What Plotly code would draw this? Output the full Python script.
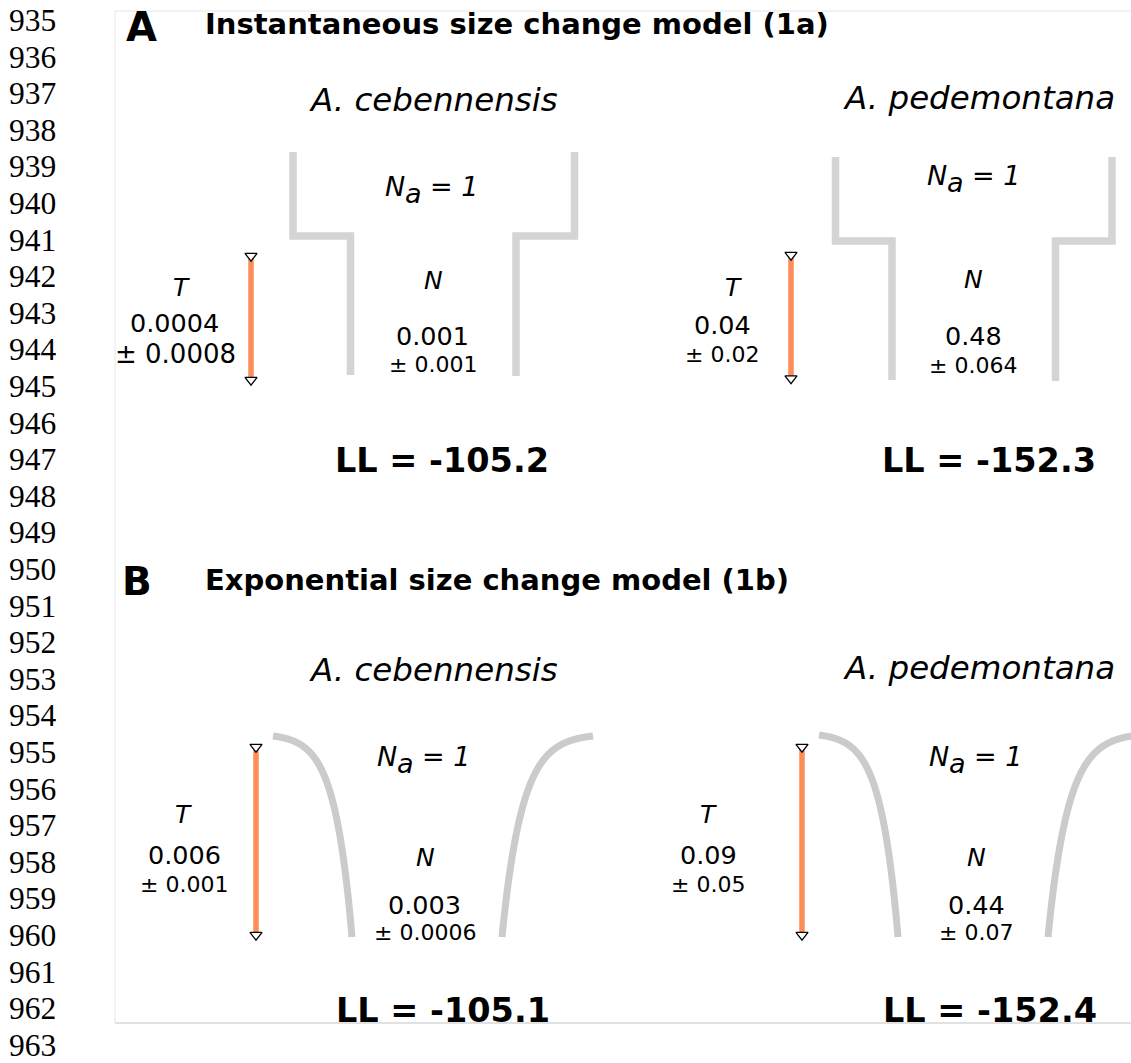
import math
import plotly.graph_objects as go

# ---------------- data ----------------
line_numbers = [935, 936, 937, 938, 939, 940, 941, 942, 943, 944, 945, 946, 947, 948, 949,
                950, 951, 952, 953, 954, 955, 956, 957, 958, 959, 960, 961, 962, 963]
panel_letters = ["A", "B"]
model_titles = ["Instantaneous size change model (1a)", "Exponential size change model (1b)"]
species = ["A. cebennensis", "A. pedemontana"]
Na_value = 1
T_est = [[0.0004, 0.04], [0.006, 0.09]]
T_se = [[0.0008, 0.02], [0.001, 0.05]]
N_est = [[0.001, 0.48], [0.003, 0.44]]
N_se = [[0.001, 0.064], [0.0006, 0.07]]
LL = [[-105.2, -152.3], [-105.1, -152.4]]

# ---------------- layout geometry (pixels) ----------------
W, H = 1131, 1063
FONT = "DejaVu Sans"
GRAY_STEP = "#d4d4d4"
GRAY_CURVE = "#cbcbcb"
ORANGE = "#fc8d59"

# per panel (row) / species (col) positions
pos = {
    (0, 0): dict(sp=(433, 100), T=(181, 287), Tv=(174, 323), Ts=(175, 354), Ts_size=26,
                 N=(433, 280), Nv=(432, 336), Ns=(433, 364), Na=(385, 186), LL=(442, 460),
                 bar=(251, 256, 380)),
    (0, 1): dict(sp=(979, 98), T=(733, 287), Tv=(722, 325), Ts=(722, 354), Ts_size=22,
                 N=(973, 279), Nv=(973, 336), Ns=(973, 365), Na=(927, 175), LL=(989, 460),
                 bar=(791, 255, 378.5)),
    (1, 0): dict(sp=(433, 670), T=(183, 814), Tv=(184, 855), Ts=(184, 884), Ts_size=22,
                 N=(425, 857), Nv=(424, 905), Ns=(425, 932), Na=(377, 756), LL=(443, 1010),
                 bar=(256, 747, 935)),
    (1, 1): dict(sp=(979, 668), T=(708, 814), Tv=(708, 855), Ts=(708, 884), Ts_size=22,
                 N=(976, 857), Nv=(976, 905), Ns=(976, 932), Na=(929, 756), LL=(990, 1010),
                 bar=(802, 747, 935)),
}
# step outlines for instantaneous model: (x_outer, x_inner, y_top, y_step, y_bottom)
steps = {
    0: [(293, 350.5, 152, 236, 375), (574.5, 516, 152, 236, 376)],
    1: [(835.5, 892, 157, 241, 380), (1112, 1055.5, 157, 241, 381)],
}
# exponential outlines: (x_top, y_top, x_bottom, y_bottom)
curves = {
    0: [(273, 736, 352, 937), (593, 736, 502, 937)],
    1: [(819, 735, 898, 937), (1139, 735, 1048, 937)],
}
letter_pos = [(141, 27, 40), (137, 581, 39)]
title_pos = [(203, 24), (203, 580)]

fig = go.Figure()

# frame lines
fig.add_shape(type="line", x0=115, x1=W, y0=11, y1=11, line=dict(color="#e6e6e6", width=1))
fig.add_shape(type="line", x0=115, x1=115, y0=11, y1=1023, line=dict(color="#e6e6e6", width=1))
fig.add_shape(type="line", x0=115, x1=W, y0=1023, y1=1023, line=dict(color="#c4c4c4", width=1.2))

# step outlines
for col, pieces in steps.items():
    for (xo, xi, yt, ys, yb) in pieces:
        fig.add_trace(go.Scatter(x=[xo, xo, xi, xi], y=[yt, ys, ys, yb], mode="lines",
                                 line=dict(color=GRAY_STEP, width=7.5), hoverinfo="skip",
                                 showlegend=False))

# exponential outlines
K = 4.5
for col, pieces in curves.items():
    for (xt, yt, xb, yb) in pieces:
        us = [i / 400 for i in range(401)]
        xs = [xt + (xb - xt) * u for u in us]
        ys = [yt + (yb - yt) * (math.exp(K * u) - 1) / (math.exp(K) - 1) for u in us]
        fig.add_trace(go.Scatter(x=xs, y=ys, mode="lines",
                                 line=dict(color=GRAY_CURVE, width=7, shape="spline",
                                           smoothing=0.5),
                                 hoverinfo="skip", showlegend=False))


def ann(x, y, text, size, bold=False, italic=False, xanchor="center", family=FONT,
        color="black", height=None):
    fig.add_annotation(x=x, y=y, text=text, showarrow=False, xanchor=xanchor, yanchor="middle",
                       height=height, valign="middle",
                       font=dict(family=family, size=size, color=color,
                                 weight="bold" if bold else "normal",
                                 style="italic" if italic else "normal"))


NA_SIZE = 27
for r in range(2):
    lx, ly, ls = letter_pos[r]
    ann(lx, ly, panel_letters[r], ls, bold=True)
    tx, ty = title_pos[r]
    ann(tx, ty, model_titles[r], 29, bold=True, xanchor="left")
    for c in range(2):
        p = pos[(r, c)]
        ann(*p["sp"], species[c], 32.5, italic=True)
        ann(*p["T"], "T", 25, italic=True)
        ann(*p["Tv"], f"{T_est[r][c]:g}", 25.5)
        ann(*p["Ts"], f"± {T_se[r][c]:g}", p["Ts_size"])
        ann(*p["N"], "N", 25, italic=True)
        ann(*p["Nv"], f"{N_est[r][c]:g}", 25.5)
        ann(*p["Ns"], f"± {N_se[r][c]:g}", 22)
        # ancestral size label  N_a = 1
        nx, ny = p["Na"]
        ann(nx - 2, ny, "N", NA_SIZE, italic=True, xanchor="left")
        ann(nx - 2 + 0.748 * NA_SIZE, ny + 7, "a", NA_SIZE, italic=True, xanchor="left")
        ann(nx - 2 + (0.748 + 0.613 + 0.318) * NA_SIZE, ny, f"= {Na_value}", NA_SIZE,
            italic=True, xanchor="left")
        ann(*p["LL"], f"LL = {LL[r][c]:.1f}", 33.5, bold=True)
        bx, by0, by1 = p["bar"]
        fig.add_trace(go.Scatter(x=[bx, bx], y=[by0, by1], mode="lines",
                                 line=dict(color=ORANGE, width=5.5), hoverinfo="skip",
                                 showlegend=False))
        fig.add_trace(go.Scatter(x=[bx, bx], y=[by0, by1], mode="markers",
                                 marker=dict(symbol="triangle-down", size=10.5, color="white",
                                             line=dict(color="black", width=1.3)),
                                 hoverinfo="skip", showlegend=False))

# manuscript line numbers
for i, n in enumerate(line_numbers):
    ann(7, 20 + 36.6 * i, str(n), 31.5, xanchor="left", family="Liberation Serif", height=26)

fig.update_layout(
    width=W, height=H, margin=dict(l=0, r=0, t=0, b=0),
    paper_bgcolor="white", plot_bgcolor="white", showlegend=False,
    xaxis=dict(range=[0, W], visible=False, fixedrange=True),
    yaxis=dict(range=[H, 0], visible=False, fixedrange=True),
)
fig.write_html("out.html", config={"displayModeBar": False},
               post_script="document.body.style.margin='0px';document.body.style.overflow='hidden';")
